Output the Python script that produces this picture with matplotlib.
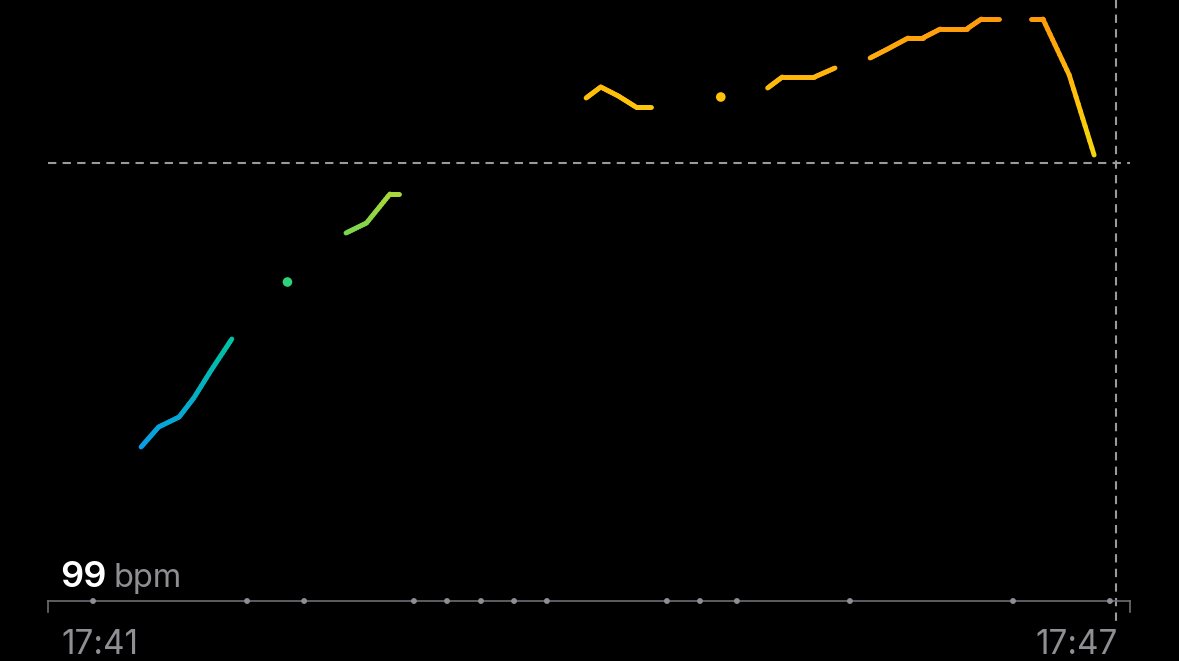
import numpy as np
import matplotlib
matplotlib.use("Agg")
import matplotlib.pyplot as plt
from matplotlib.collections import LineCollection
from matplotlib.colors import LinearSegmentedColormap, Normalize

# ---------------- data (seconds since 17:41, bpm) ----------------
seg1_t = [27, 33, 40, 45, 51, 58]
seg1_bpm = [70.2, 72.2, 73.2, 75.1, 77.9, 81.0]
dot1_t = [77]
dot1_bpm = [86.7]
seg2_t = [97, 104, 112, 115]
seg2_bpm = [91.6, 92.6, 95.5, 95.5]
seg3_t = [179, 184, 190, 196, 201]
seg3_bpm = [105.1, 106.2, 105.3, 104.2, 104.2]
dot2_t = [225]
dot2_bpm = [105.2]
seg4_t = [241, 246, 257, 264]
seg4_bpm = [106.1, 107.2, 107.2, 108.1]
seg5_t = [276, 282, 289, 294, 300, 309, 314, 320]
seg5_bpm = [109.1, 110.0, 111.1, 111.1, 112.0, 112.0, 113.0, 113.0]
seg6_t = [331, 335, 344, 352.5]
seg6_bpm = [113.0, 113.0, 107.4, 99.4]

segments = [(seg1_t, seg1_bpm), (seg2_t, seg2_bpm), (seg3_t, seg3_bpm),
            (seg4_t, seg4_bpm), (seg5_t, seg5_bpm), (seg6_t, seg6_bpm)]
dots = [(dot1_t, dot1_bpm), (dot2_t, dot2_bpm)]

axis_marks_t = [10.6, 63.2, 82.7, 120.2, 131.5, 143.1, 154.4, 165.6,
                206.6, 217.9, 230.5, 269.1, 324.8, 357.9]
cursor_t = 360
ref_bpm = 98.6
value_text = "99"
unit_text = "bpm"
start_label = "17:41"
end_label = "17:47"

# colour stops (bpm -> colour)
stop_bpm = [70, 81, 86.7, 92, 95.5, 99.4, 105, 109, 113]
stop_col = ["#0A9BE8", "#00C2A0", "#2DD27A", "#7FD64A", "#A8D83A",
            "#F2D60E", "#FFC20A", "#FFAE0C", "#FF9A0A"]

# ---------------- layout ----------------
W, H = 1179, 661
fig = plt.figure(figsize=(W / 100, H / 100), dpi=100, facecolor="black")
ax = fig.add_axes([0, 0, 1, 1])
ax.set_facecolor("black")
ax.axis("off")

px_per_s = 2.928
x0_px = 62
def px2t(px):
    return (px - x0_px) / px_per_s
def py2b(py):
    return 113 + (19 - py) / 10.0

ax.set_xlim(px2t(0), px2t(W))
ax.set_ylim(py2b(H), py2b(0))

lo, hi = stop_bpm[0], stop_bpm[-1]
cmap = LinearSegmentedColormap.from_list(
    "hr", [((b - lo) / (hi - lo), c) for b, c in zip(stop_bpm, stop_col)])
norm = Normalize(lo, hi)

lw = 3.5
for t, b in segments:
    t = np.asarray(t, float); b = np.asarray(b, float)
    xs, ys = [], []
    for i in range(len(t) - 1):
        tt = np.linspace(t[i], t[i + 1], 12)
        bb = np.linspace(b[i], b[i + 1], 12)
        if i > 0:
            tt, bb = tt[1:], bb[1:]
        xs.extend(tt); ys.extend(bb)
    xs = np.array(xs); ys = np.array(ys)
    pts = np.column_stack([xs, ys]).reshape(-1, 1, 2)
    segs = np.concatenate([pts[:-1], pts[1:]], axis=1)
    mid = (ys[:-1] + ys[1:]) / 2
    lc = LineCollection(segs, colors=cmap(norm(mid)), linewidths=lw,
                        capstyle="round", joinstyle="round", zorder=3)
    ax.add_collection(lc)

for t, b in dots:
    ax.scatter(t, b, s=48, color=cmap(norm(b[0])), edgecolors="none", zorder=3)

# reference dashed lines
dash_col = "#9A9A9E"
ax.plot([px2t(48), px2t(1130)], [ref_bpm, ref_bpm], color=dash_col, lw=1.5,
        dashes=(4, 3), zorder=2)
ax.plot([cursor_t, cursor_t], [py2b(0), py2b(624)], color=dash_col, lw=1.5,
        dashes=(4, 3), zorder=2)

# baseline axis
base = py2b(601)
axis_col = "#6E6E73"
ax.plot([px2t(48), px2t(1130)], [base, base], color=axis_col, lw=1.2, zorder=2)
ax.plot([px2t(48), px2t(48)], [base, py2b(612)], color=axis_col, lw=1.2, zorder=2)
ax.plot([px2t(1130), px2t(1130)], [base, py2b(612)], color=axis_col, lw=1.2, zorder=2)
ax.scatter(axis_marks_t, [base] * len(axis_marks_t), s=18, color="#8E8E93",
           edgecolors="none", zorder=3)

# texts
fam = ["Inter", "DejaVu Sans"]
ax.text(60 / W, 1 - 587 / H, value_text, transform=fig.transFigure,
        color="white", fontsize=26, fontweight="semibold", family=fam,
        ha="left", va="baseline")
ax.text(114 / W, 1 - 587 / H, unit_text, transform=fig.transFigure,
        color="#8E8E93", fontsize=23.5, family=fam, ha="left", va="baseline")
ax.text(61 / W, 1 - 654 / H, start_label, transform=fig.transFigure,
        color="#8E8E93", fontsize=24, family=fam, ha="left", va="baseline")
ax.text(1118 / W, 1 - 654 / H, end_label, transform=fig.transFigure,
        color="#8E8E93", fontsize=24, family=fam, ha="right", va="baseline")

fig.savefig("out.png", dpi=100, facecolor="black")
